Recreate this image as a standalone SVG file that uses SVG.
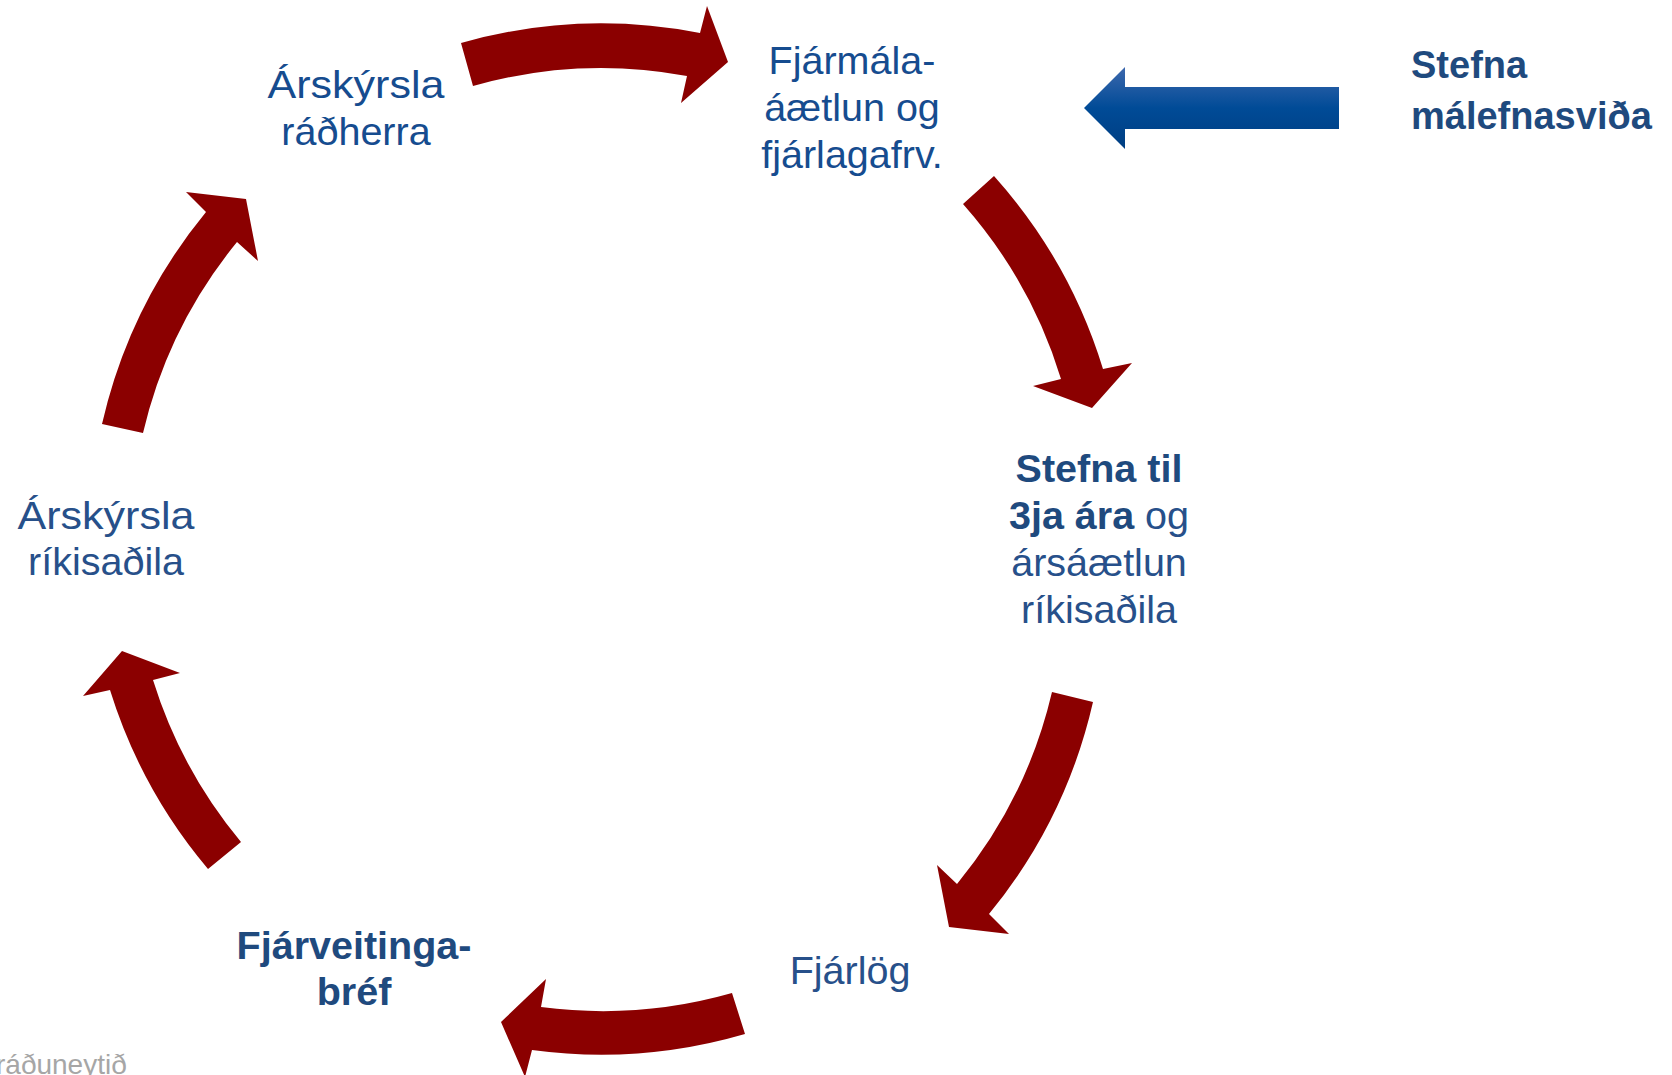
<svg xmlns="http://www.w3.org/2000/svg" width="1672" height="1075" viewBox="0 0 1672 1075">
<style>
.t{font-family:"Liberation Sans",Arial,sans-serif;font-size:39.5px;text-anchor:middle}
.a{fill:#164c8f}
.b{fill:#27508a}
.bold{font-weight:bold;fill:#1f4a7e}
.arc{fill:#8b0000}
.foot{font-family:"Liberation Sans",Arial,sans-serif;font-size:28px;fill:#a6a6a6}
</style>
<defs>
<linearGradient id="blueGrad" x1="0" y1="0" x2="0" y2="1">
<stop offset="0" stop-color="#3d68ad"/>
<stop offset="0.5" stop-color="#004b97"/>
<stop offset="1" stop-color="#003e82"/>
</linearGradient>
</defs>
<rect width="1672" height="1075" fill="#ffffff"/>
<g id="connectors">
<path class="arc" d="M461,43 A515,515 0 0 1 700,33 L707,6 L728,62 L681,103 L687,76 A472,472 0 0 0 473,86 Z"/>
<path class="arc" d="M994,176 A515,515 0 0 1 1103,369 L1132,363 L1092,408 L1033,386 L1061,379 A472,472 0 0 0 963,204 Z"/>
<path class="arc" d="M1093,702 A515,515 0 0 1 989,914 L1009,934 L949,927 L937,865 L957,884 A472,472 0 0 0 1052,692 Z"/>
<path class="arc" d="M745,1034 A515,515 0 0 1 532,1050 L525,1077 L501,1022 L546,979 L541,1007 A472,472 0 0 0 732,993 Z"/>
<path class="arc" d="M208,869 A515,515 0 0 1 110,690 L83,696 L122,651 L180,673 L153,680 A472,472 0 0 0 241,842 Z"/>
<path class="arc" d="M102,424 A515,515 0 0 1 206,212 L186,192 L246,199 L258,261 L237,242 A472,472 0 0 0 143,433 Z"/>
<path fill="url(#blueGrad)" d="M1084,108 L1125,67 L1125,87 L1339,87 L1339,129 L1125,129 L1125,149 Z"/>
</g>
<g id="node-arsskyrsla-radherra">
<text class="t a" x="356" y="98" textLength="177" lengthAdjust="spacingAndGlyphs">Árskýrsla</text>
<text class="t a" x="356" y="145">ráðherra</text>
</g>
<g id="node-fjarmalaaaetlun">
<text class="t a" x="852" y="74">Fjármála-</text>
<text class="t a" x="852" y="121">áætlun og</text>
<text class="t a" x="852" y="168">fjárlagafrv.</text>
</g>
<g id="node-stefna-3ja-ara">
<text class="t bold" x="1099" y="482">Stefna til</text>
<text class="t b" x="1099" y="529"><tspan class="bold">3ja ára</tspan> og</text>
<text class="t b" x="1099" y="576">ársáætlun</text>
<text class="t b" x="1099" y="623">ríkisaðila</text>
</g>
<g id="node-fjarlog">
<text class="t b" x="850" y="984">Fjárlög</text>
</g>
<g id="node-fjarveitingabref">
<text class="t bold" x="354" y="959">Fjárveitinga-</text>
<text class="t bold" x="354" y="1005">bréf</text>
</g>
<g id="node-arsskyrsla-rikisadila">
<text class="t b" x="106" y="529" textLength="177" lengthAdjust="spacingAndGlyphs">Árskýrsla</text>
<text class="t b" x="106" y="575">ríkisaðila</text>
</g>
<g id="node-stefna-malefnasvida">
<text class="t bold" x="1411" y="78" style="text-anchor:start;font-size:38px">Stefna</text>
<text class="t bold" x="1411" y="129" style="text-anchor:start;font-size:38px">málefnasviða</text>
</g>
<text class="foot" x="-4" y="1074">ráðuneytið</text>
</svg>
